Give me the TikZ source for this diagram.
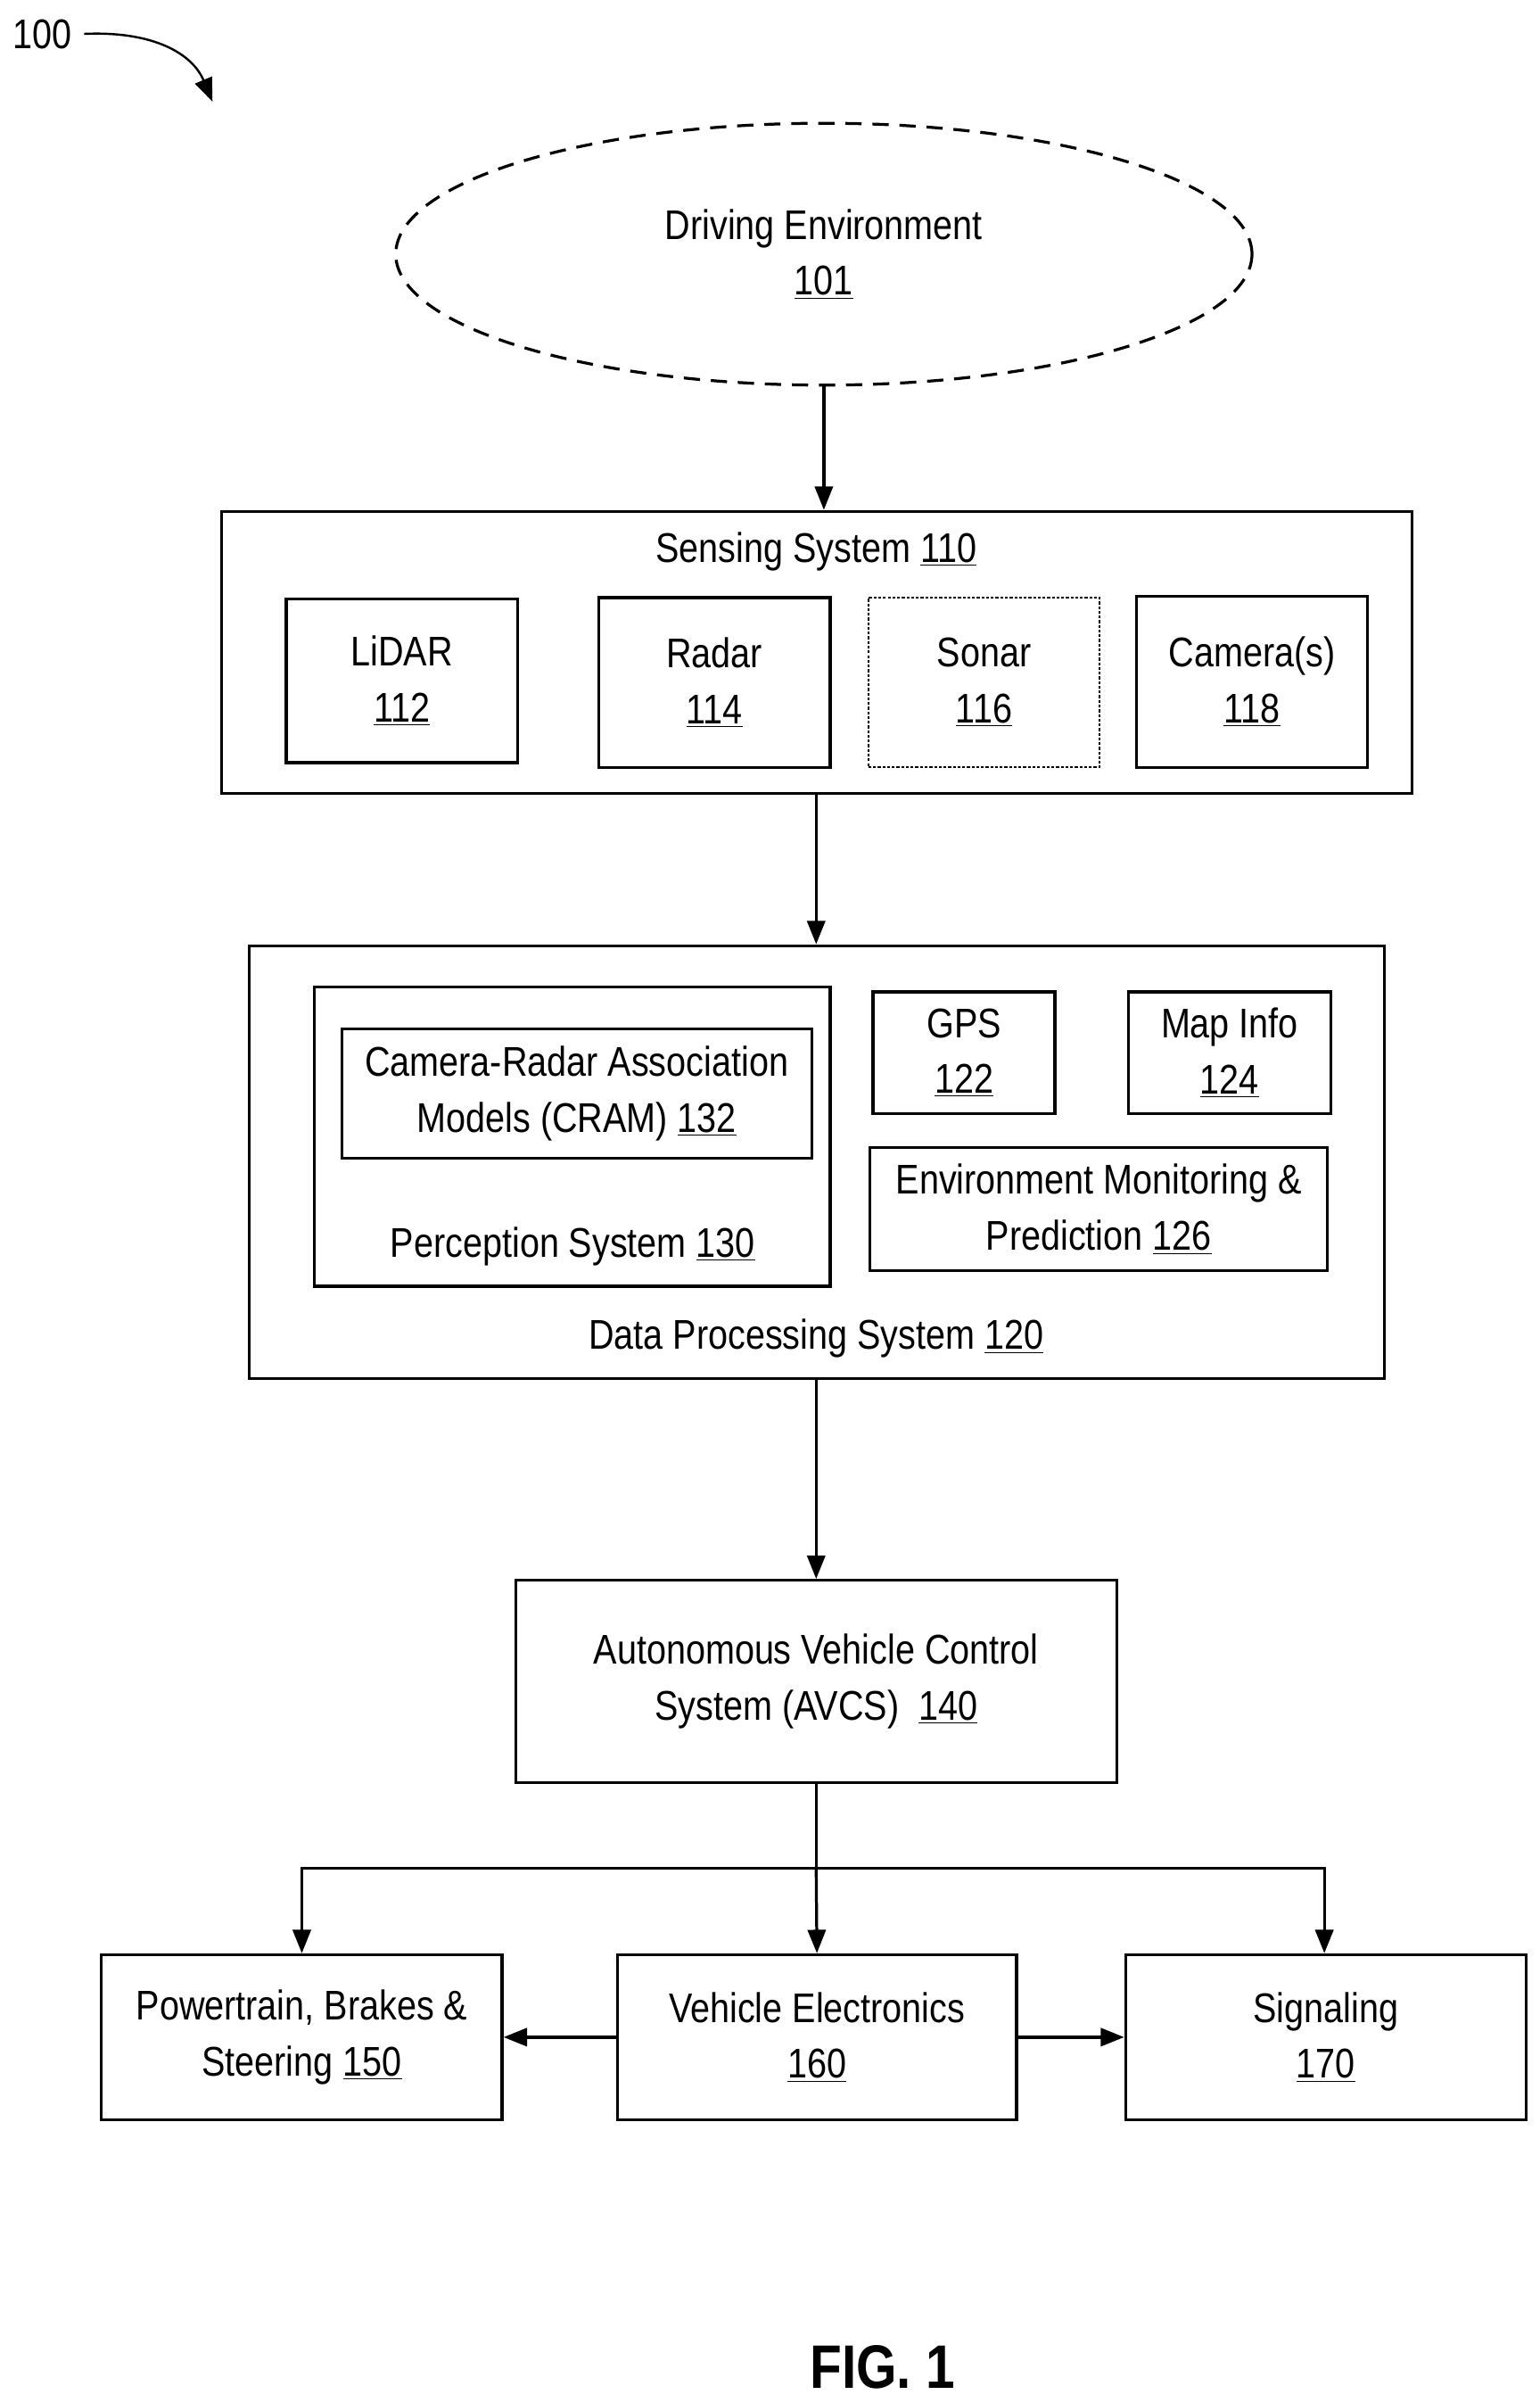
\documentclass[tikz,border=0pt]{standalone}
\usepackage{fontspec}
\setmainfont[FakeStretch=0.85]{Liberation Sans}
\usetikzlibrary{arrows.meta,shapes.geometric}
\begin{document}
\begin{tikzpicture}[x=0.03cm,y=-0.03cm,
  box/.style={draw,line width=1.6pt,inner sep=0pt,align=center,font=\fontsize{23}{31}\selectfont},
  txt/.style={inner sep=0pt,align=center,font=\fontsize{23}{31}\selectfont},
  arr/.style={line width=1.6pt,-{Triangle[length=13pt,width=10pt]}}]
\useasboundingbox (0,0) rectangle (1000,1560);
\newcommand\bx[6][]{\node[box,#1,minimum width={(#4-#2)*0.3mm-1.6pt},minimum height={(#5-#3)*0.3mm-1.6pt}] (#6) at ({(#2+#4)/2},{(#3+#5)/2})}
% label 100
\node[txt,anchor=west] (l100) at (8,22) {100};
\coordinate (c100) at (138,66);
\draw[arr,line width=1.2pt] (l100.east)++(8,0) .. controls (100,20) and (125,35) .. (c100);
% environment
\node[draw,dash pattern=on 9pt off 6pt,line width=1.6pt,ellipse,minimum width=556*0.3mm,minimum height=170*0.3mm,txt] (env) at (535,165) {Driving Environment\\\underline{101}};
% sensing
\bx{143}{331}{918}{516}{sens} {};
\node[txt] (senst) at (530,358) {Sensing System \underline{110}};
\bx{185}{388}{337}{496}{lidar} {LiDAR\\\underline{112}};
\bx{388}{387}{540}{499}{radar} {Radar\\\underline{114}};
\bx[densely dotted,line width=1.2pt]{563}{387}{715}{499}{sonar} {Sonar\\\underline{116}};
\bx{737}{386}{889}{499}{cam} {Camera(s)\\\underline{118}};
% data processing
\bx{161}{613}{900}{896}{dps} {};
\node[txt] (dpst) at (530,869) {Data Processing System \underline{120}};
\bx{203}{640}{540}{836}{perc} {};
\node[txt] (perct) at (372,809) {Perception System \underline{130}};
\bx{221}{667}{528}{753}{cram} {Camera-Radar Association\\Models (CRAM) \underline{132}};
\bx{566}{643}{686}{724}{gps} {GPS\\\underline{122}};
\bx{732}{643}{865}{724}{map} {Map Info\\\underline{124}};
\bx{564}{744}{863}{826}{emp} {Environment Monitoring \&\\Prediction \underline{126}};
% AVCS
\bx{334}{1025}{726}{1158}{avcs} {Autonomous Vehicle Control\\System (AVCS)~~\underline{140}};
\bx{65}{1268}{327}{1377}{pbs} {Powertrain, Brakes \&\\Steering \underline{150}};
\bx{400}{1268}{661}{1377}{ve} {Vehicle Electronics\\\underline{160}};
\bx{730}{1268}{992}{1377}{sig} {Signaling\\\underline{170}};
% connectors
\draw[arr] (env.south) -- (env.south|-sens.north);
\draw[arr] (530,516) -- (530,613);
\draw[arr] (530,896) -- (530,1025);
\coordinate (br) at (530,1213);
\draw[line width=1.6pt] (530,1158) -- (br);
\draw[arr] (br) -- (196,1213) -- (pbs.north);
\draw[arr] (br) -- (ve.north);
\draw[arr] (br) -- (860,1213) -- (860,1268);
\draw[arr] (ve.west) -- (pbs.east);
\draw[arr] (ve.east) -- (sig.west);
\node[inner sep=0pt,font=\fontsize{34}{38}\selectfont\bfseries] (fig) at (573,1537) {FIG. 1};
\end{tikzpicture}
\end{document}
